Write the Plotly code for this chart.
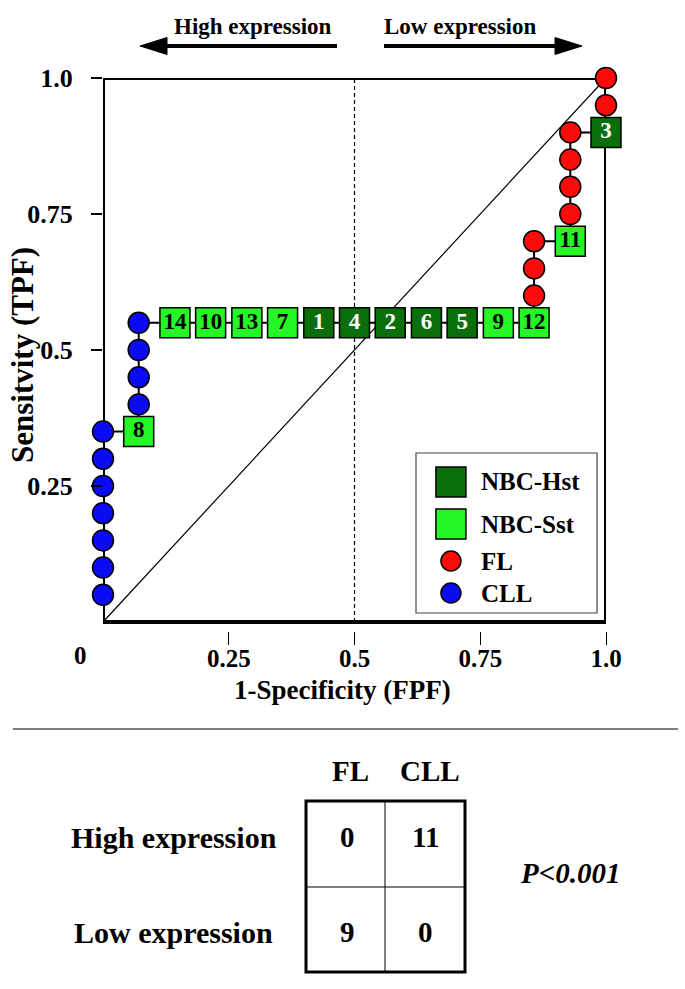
import plotly.graph_objects as go

# ---------------- data ----------------
cll_fpf = [0.0, 0.0, 0.0, 0.0, 0.0, 0.0, 0.0, 0.071, 0.071, 0.071, 0.071]
cll_tpf = [0.05, 0.10, 0.15, 0.20, 0.25, 0.30, 0.35, 0.40, 0.45, 0.50, 0.55]

fl_fpf = [0.857, 0.857, 0.857, 0.929, 0.929, 0.929, 0.929, 1.0, 1.0]
fl_tpf = [0.60, 0.65, 0.70, 0.75, 0.80, 0.85, 0.90, 0.95, 1.00]

nbc_id = ["8", "14", "10", "13", "7", "1", "4", "2", "6", "5", "9", "12", "11", "3"]
nbc_group = ["Sst", "Sst", "Sst", "Sst", "Sst", "Hst", "Hst", "Hst", "Hst", "Hst",
             "Sst", "Sst", "Sst", "Hst"]
nbc_fpf = [0.071, 0.143, 0.214, 0.286, 0.357, 0.429, 0.500, 0.571, 0.643, 0.714,
           0.786, 0.857, 0.929, 1.000]
nbc_tpf = [0.35, 0.55, 0.55, 0.55, 0.55, 0.55, 0.55, 0.55, 0.55, 0.55,
           0.55, 0.55, 0.70, 0.90]

x_tick_vals = [0.25, 0.5, 0.75, 1.0]
x_tick_text = ["0.25", "0.5", "0.75", "1.0"]
y_tick_vals = [0.25, 0.5, 0.75, 1.0]
y_tick_text = ["0.25", "0.5", "0.75", "1.0"]

legend_names = ["NBC-Hst", "NBC-Sst", "FL", "CLL"]

table_cols = ["FL", "CLL"]
table_rows = ["High expression", "Low expression"]
table_counts = [[0, 11], [9, 0]]
p_value_text = "P&lt;0.001"

# ---------------- styles ----------------
W, H = 685, 989
FONT = "Liberation Serif, Times New Roman, serif"
DARK_GREEN = "#0a6e0a"
LIGHT_GREEN = "#26f526"
RED = "#ff0a0a"
BLUE = "#0a0af5"


def px(x):
    return x / W


def py(y):
    return 1 - y / H


# pixel layout of the ROC frame
FR_L, FR_R, FR_T, FR_B, AX_B = 103, 606, 78, 622, 631
y_low = -(AX_B - FR_B) / (FR_B - FR_T)

fig = go.Figure()

# ROC step path (points ordered by FPF then TPF)
pts = sorted(list(zip(cll_fpf, cll_tpf)) + list(zip(fl_fpf, fl_tpf)) +
             list(zip(nbc_fpf, nbc_tpf)))
fig.add_trace(go.Scatter(x=[p[0] for p in pts], y=[p[1] for p in pts], mode="lines",
                         line=dict(color="black", width=2), cliponaxis=False,
                         showlegend=False, hoverinfo="skip"))

fig.add_trace(go.Scatter(x=cll_fpf, y=cll_tpf, mode="markers", cliponaxis=False,
                         marker=dict(symbol="circle", size=21, color=BLUE, opacity=1,
                                     line=dict(color="black", width=1.5)),
                         showlegend=False, name="CLL"))
fig.add_trace(go.Scatter(x=fl_fpf, y=fl_tpf, mode="markers", cliponaxis=False,
                         marker=dict(symbol="circle", size=21, color=RED, opacity=1,
                                     line=dict(color="black", width=1.5)),
                         showlegend=False, name="FL"))
fig.add_trace(go.Scatter(
    x=nbc_fpf, y=nbc_tpf, mode="markers+text", cliponaxis=False,
    text=["<b>%s</b>" % t for t in nbc_id], textposition="middle center",
    textfont=dict(family=FONT, size=23,
                  color=["white" if g == "Hst" else "black" for g in nbc_group]),
    marker=dict(symbol="square", size=30, opacity=1,
                color=[DARK_GREEN if g == "Hst" else LIGHT_GREEN for g in nbc_group],
                line=dict(color="black", width=1.5)),
    showlegend=False, name="NBC"))

# custom legend on its own small axes
leg_y = [0.819, 0.556, 0.325, 0.125]
leg_sym = ["square", "square", "circle", "circle"]
leg_size = [30, 30, 20, 20]
leg_col = [DARK_GREEN, LIGHT_GREEN, RED, BLUE]
fig.add_trace(go.Scatter(x=[0.193] * 4, y=leg_y, mode="markers", xaxis="x2", yaxis="y2",
                         cliponaxis=False,
                         marker=dict(symbol=leg_sym, size=leg_size, color=leg_col,
                                     opacity=1, line=dict(color="black", width=1.5)),
                         showlegend=False, hoverinfo="skip"))

shapes = []
# dashed midline and diagonal
shapes.append(dict(type="line", xref="x", yref="y", x0=0.5, x1=0.5, y0=0, y1=1,
                   line=dict(color="black", width=1.2, dash="4px,3px"), layer="below"))
shapes.append(dict(type="line", xref="x", yref="y", x0=0, x1=1, y0=0, y1=1,
                   line=dict(color="black", width=1.2), layer="below"))
# frame
shapes.append(dict(type="rect", xref="x", yref="y", x0=0, x1=1, y0=0, y1=1,
                   line=dict(color="black", width=4), layer="below"))
# legend box
shapes.append(dict(type="rect", xref="paper", yref="paper", x0=px(416), x1=px(597),
                   y0=py(613), y1=py(453), line=dict(color="#444444", width=1.2),
                   layer="below"))
# arrows
AY = 46
shapes.append(dict(type="line", xref="paper", yref="paper", x0=px(160), x1=px(337),
                   y0=py(AY), y1=py(AY), line=dict(color="black", width=4)))
shapes.append(dict(type="path", xref="paper", yref="paper",
                   path="M %f %f L %f %f L %f %f Z" % (px(140), py(AY), px(167), py(AY - 8.5),
                                                       px(167), py(AY + 8.5)),
                   fillcolor="black", line=dict(color="black", width=1)))
shapes.append(dict(type="line", xref="paper", yref="paper", x0=px(384), x1=px(562),
                   y0=py(AY), y1=py(AY), line=dict(color="black", width=4)))
shapes.append(dict(type="path", xref="paper", yref="paper",
                   path="M %f %f L %f %f L %f %f Z" % (px(582), py(AY), px(555), py(AY - 8.5),
                                                       px(555), py(AY + 8.5)),
                   fillcolor="black", line=dict(color="black", width=1)))
# separator
shapes.append(dict(type="line", xref="paper", yref="paper", x0=px(13), x1=px(678),
                   y0=py(729), y1=py(729), line=dict(color="#555555", width=1.5)))
# 2x2 table
TL, TM, TR = 306, 385, 465
TT, TMID, TB = 801, 887, 972
shapes.append(dict(type="line", xref="paper", yref="paper", x0=px(TM), x1=px(TM),
                   y0=py(TT), y1=py(TB), line=dict(color="black", width=1)))
shapes.append(dict(type="line", xref="paper", yref="paper", x0=px(TL), x1=px(TR),
                   y0=py(TMID), y1=py(TMID), line=dict(color="black", width=1)))
shapes.append(dict(type="rect", xref="paper", yref="paper", x0=px(TL), x1=px(TR),
                   y0=py(TB), y1=py(TT), line=dict(color="black", width=3)))

ann = []


def add_text(x, y, text, size, xanchor="center", angle=0):
    ann.append(dict(xref="paper", yref="paper", x=px(x), y=py(y), text=text,
                    showarrow=False, xanchor=xanchor, yanchor="middle", textangle=angle,
                    font=dict(family=FONT, size=size, color="black")))


add_text(253, 26, "<b>High expression</b>", 23)
add_text(460, 26, "<b>Low expression</b>", 23)
add_text(22, 355, "<b>Sensitvity (TPF)</b>", 31, angle=-90)
add_text(342, 690, "<b>1-Specificity (FPF)</b>", 27)
add_text(89, 655, "<b>0</b>", 25, xanchor="right")

# legend labels
for name, yy in zip(legend_names, leg_y):
    ann.append(dict(xref="x2", yref="y2", x=0.35, y=yy, text="<b>%s</b>" % name,
                    showarrow=False, xanchor="left", yanchor="middle",
                    font=dict(family=FONT, size=25, color="black")))

# table texts
col_x = [350, 430]
cell_x = [348, 425]
row_y = [837, 932]
for c, cx in zip(table_cols, col_x):
    add_text(cx, 771, "<b>%s</b>" % c, 29)
for r, ry, counts in zip(table_rows, row_y, table_counts):
    add_text(174, ry, "<b>%s</b>" % r, 30)
    for v, cx in zip(counts, cell_x):
        add_text(cx, ry, "<b>%d</b>" % v, 29)
add_text(570, 873, "<b><i>%s</i></b>" % p_value_text, 29)

fig.update_layout(
    width=W, height=H, margin=dict(l=0, r=0, t=0, b=0, pad=0),
    paper_bgcolor="white", plot_bgcolor="rgba(0,0,0,0)",
    showlegend=False, shapes=shapes, annotations=ann,
    font=dict(family=FONT, color="black"),
    xaxis=dict(domain=[px(FR_L), px(FR_R)], range=[0, 1], showgrid=False, zeroline=False,
               automargin=False, fixedrange=True,
               showline=False, tickmode="array", tickvals=x_tick_vals,
               ticktext=["<b>%s</b>" % t for t in x_tick_text], ticks="outside",
               ticklen=13, tickwidth=1.2, tickcolor="black", ticklabelstandoff=-8,
               tickfont=dict(family=FONT, size=25, color="black")),
    yaxis=dict(domain=[py(AX_B), py(FR_T)], range=[y_low, 1], showgrid=False,
               automargin=False, fixedrange=True,
               zeroline=False, showline=False, tickmode="array", tickvals=y_tick_vals,
               ticktext=["<b>%s</b>" % t for t in y_tick_text], ticks="outside",
               ticklen=11, tickwidth=1.5, tickcolor="black", ticklabelstandoff=13,
               tickfont=dict(family=FONT, size=26, color="black")),
    xaxis2=dict(domain=[px(416), px(597)], range=[0, 1], visible=False, anchor="y2",
                fixedrange=True),
    yaxis2=dict(domain=[py(613), py(453)], range=[0, 1], visible=False, anchor="x2",
                fixedrange=True),
)

fig.write_html("out.html", config={"displayModeBar": False},
               post_script="document.body.style.margin='0';"
                           "document.body.style.overflow='hidden';")
